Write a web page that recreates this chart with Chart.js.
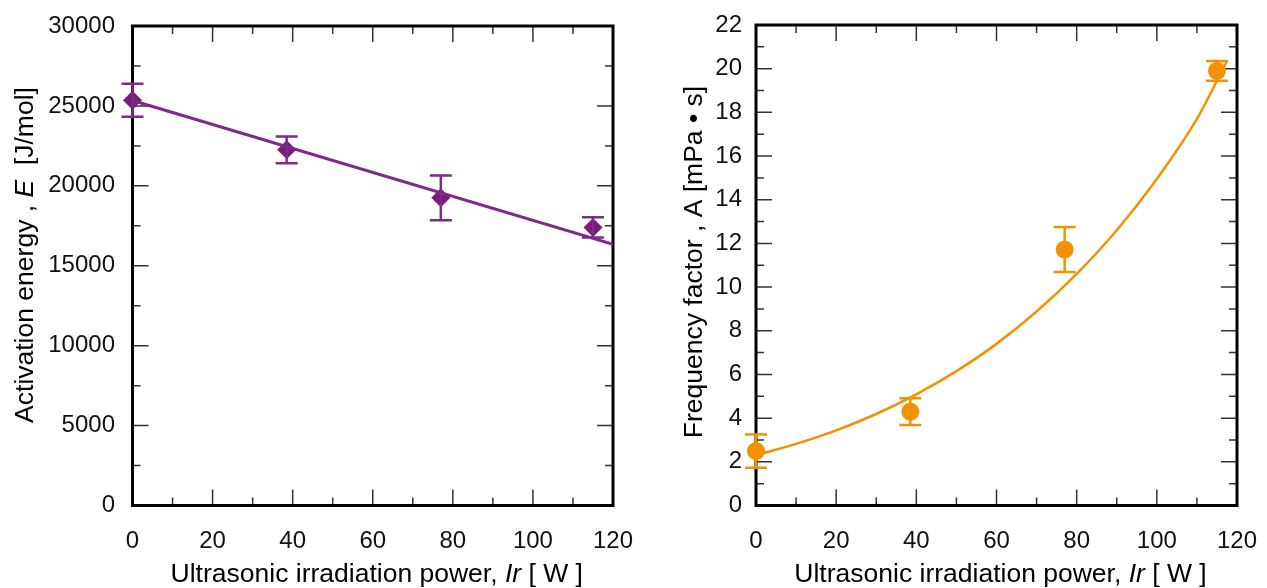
<!DOCTYPE html>
<html>
<head>
<meta charset="utf-8">
<title>Activation energy and frequency factor</title>
<script src="https://cdn.jsdelivr.net/npm/chart.js@4.4.0/dist/chart.umd.min.js"></script>
<style>
  html, body { margin: 0; padding: 0; background: #fff; }
  #wrap { position: relative; width: 1267px; height: 588px; }
  #energyChart { position: absolute; left: 0; top: 0; }
  #factorChart { position: absolute; left: 633px; top: 0; }
</style>
</head>
<body>
<div id="wrap">
  <canvas id="energyChart" width="633" height="588"></canvas>
  <canvas id="factorChart" width="634" height="588"></canvas>
</div>
<script>
// measured points (x = ultrasonic power, W)
const powerW = [0, 38.5, 77, 115];

// left panel: activation energy E [J/mol]
const energyE = [25350, 22250, 19250, 17400];
const energyErr = [1030, 840, 1400, 630];
const energyFitX = [0, 120];
const energyFitY = [25340, 16340];

// right panel: frequency factor A [mPa s]
const factorA = [2.49, 4.3, 11.72, 19.9];
const factorErr = [0.76, 0.61, 1.03, 0.45];
const factorFitX = [0, 10, 20, 30, 40, 50, 60, 70, 80, 90, 100, 110, 117.5];
const factorFitY = [2.3, 2.82, 3.44, 4.19, 5.09, 6.15, 7.4, 8.88, 10.6, 12.6, 14.95, 17.7, 20.35];

// tick labels
const powerTicks = [0, 20, 40, 60, 80, 100, 120];
const energyTicks = [0, 5000, 10000, 15000, 20000, 25000, 30000];
const factorTicks = [0, 2, 4, 6, 8, 10, 12, 14, 16, 18, 20, 22];

const FONT = '"Liberation Sans", Arial, sans-serif';
const PURPLE = '#7e2a88';
const ORANGE = '#f39200';

const toPoints = (xs, ys) => xs.map((x, i) => ({ x: x, y: ys[i] }));

// frame + inward ticks on all four sides, drawn under the data
const frameTicks = {
  id: 'frameTicks',
  beforeDatasetsDraw(chart) {
    const { ctx, chartArea: a, scales: { x, y } } = chart;
    const xs = x.ticks.map(t => t.value);
    const ys = y.ticks.map(t => t.value);
    const mids = v => v.slice(1).map((t, i) => (t + v[i]) / 2);

    ctx.save();
    ctx.strokeStyle = '#333';
    ctx.lineWidth = 1.5;
    ctx.beginPath();
    const xTick = (val, len) => {
      const px = x.getPixelForValue(val);
      ctx.moveTo(px, a.bottom); ctx.lineTo(px, a.bottom - len);
      ctx.moveTo(px, a.top); ctx.lineTo(px, a.top + len);
    };
    const yTick = (val, len) => {
      const py = y.getPixelForValue(val);
      ctx.moveTo(a.left, py); ctx.lineTo(a.left + len, py);
      ctx.moveTo(a.right, py); ctx.lineTo(a.right - len, py);
    };
    xs.forEach(v => xTick(v, 16));
    mids(xs).forEach(v => xTick(v, 8));
    ys.forEach(v => yTick(v, 16));
    mids(ys).forEach(v => yTick(v, 8));
    ctx.stroke();

    ctx.strokeStyle = '#000';
    ctx.lineWidth = 3;
    ctx.strokeRect(a.left, a.top, a.right - a.left, a.bottom - a.top);
    ctx.restore();
  }
};

const errorBars = {
  id: 'errorBars',
  afterDatasetsDraw(chart, args, opts) {
    const { ctx, scales: { x, y } } = chart;
    ctx.save();
    ctx.strokeStyle = opts.color;
    ctx.lineWidth = 2.5;
    opts.xs.forEach((xv, i) => {
      const px = x.getPixelForValue(xv);
      const top = y.getPixelForValue(opts.ys[i] + opts.errs[i]);
      const bot = y.getPixelForValue(opts.ys[i] - opts.errs[i]);
      ctx.beginPath();
      ctx.moveTo(px, top); ctx.lineTo(px, bot);
      ctx.moveTo(px - 11, top); ctx.lineTo(px + 11, top);
      ctx.moveTo(px - 11, bot); ctx.lineTo(px + 11, bot);
      ctx.stroke();
    });
    ctx.restore();
  }
};

// axis titles with italic symbols
const axisTitles = {
  id: 'axisTitles',
  afterDraw(chart, args, opts) {
    const { ctx, chartArea: a } = chart;
    const fontOf = it => (it ? 'italic ' : '') + '26.5px ' + FONT;
    const drawSegs = (segs, cx, cy) => {
      let total = 0;
      segs.forEach(s => { ctx.font = fontOf(s[1]); total += ctx.measureText(s[0]).width; });
      let pos = cx - total / 2;
      segs.forEach(s => {
        ctx.font = fontOf(s[1]);
        ctx.fillText(s[0], pos, cy);
        pos += ctx.measureText(s[0]).width;
      });
    };
    ctx.save();
    ctx.fillStyle = '#000';
    ctx.textBaseline = 'alphabetic';
    ctx.textAlign = 'left';
    drawSegs(opts.xTitle, (a.left + a.right) / 2 + 4, 581.5);
    ctx.translate(opts.yBaseX, opts.yCenter);
    ctx.rotate(-Math.PI / 2);
    drawSegs(opts.yTitle, 0, 0);
    ctx.restore();
  }
};

const xTitleSegs = [['Ultrasonic irradiation power, ', false], ['Ir', true], [' [ W ]', false]];

function makeOptions(yMin, yMax, yTickVals, axisWidth, pad, titles, bars) {
  return {
    responsive: false,
    animation: false,
    layout: { padding: pad },
    plugins: {
      legend: { display: false },
      tooltip: { enabled: false },
      errorBars: bars,
      axisTitles: titles
    },
    scales: {
      x: {
        type: 'linear',
        min: 0, max: 120,
        afterBuildTicks: s => { s.ticks = powerTicks.map(v => ({ value: v })); },
        afterFit: s => { s.height = 82.5; s.paddingLeft = 0; s.paddingRight = 0; },
        grid: { display: false, drawTicks: false },
        border: { display: false },
        ticks: {
          padding: 21, maxRotation: 0, color: '#111',
          font: { family: FONT, size: 24 },
          callback: v => String(v)
        }
      },
      y: {
        type: 'linear',
        min: yMin, max: yMax,
        afterBuildTicks: s => { s.ticks = yTickVals.map(v => ({ value: v })); },
        afterFit: s => { s.width = axisWidth; s.paddingTop = 0; s.paddingBottom = 0; },
        grid: { display: false, drawTicks: false },
        border: { display: false },
        ticks: {
          padding: titles.labelGap, color: '#111',
          font: { family: FONT, size: 24 },
          callback: v => String(v)
        }
      }
    }
  };
}

new Chart(document.getElementById('energyChart'), {
  type: 'scatter',
  data: {
    datasets: [
      {
        data: toPoints(energyFitX, energyFitY),
        showLine: true,
        borderColor: PURPLE,
        borderWidth: 3,
        pointRadius: 0
      },
      {
        data: toPoints(powerW, energyE),
        pointStyle: 'rectRot',
        pointRadius: 9.5,
        pointBackgroundColor: '#7a1c7b',
        pointBorderWidth: 0,
        clip: false
      }
    ]
  },
  options: makeOptions(0, 30000, energyTicks, 132.5,
    { top: 26, right: 20, left: 0, bottom: 0 },
    {
      xTitle: xTitleSegs,
      yTitle: [['Activation energy , ', false], ['E', true], ['  [J/mol]', false]],
      yBaseX: 33, yCenter: 255, labelGap: 17.5
    },
    { xs: powerW, ys: energyE, errs: energyErr, color: PURPLE }),
  plugins: [frameTicks, errorBars, axisTitles]
});

new Chart(document.getElementById('factorChart'), {
  type: 'scatter',
  data: {
    datasets: [
      {
        data: toPoints(factorFitX, factorFitY),
        showLine: true,
        cubicInterpolationMode: 'monotone',
        borderColor: ORANGE,
        borderWidth: 2.5,
        pointRadius: 0
      },
      {
        data: toPoints(powerW, factorA),
        pointStyle: 'circle',
        pointRadius: 9,
        pointBackgroundColor: ORANGE,
        pointBorderWidth: 0,
        clip: false
      }
    ]
  },
  options: makeOptions(0, 22, factorTicks, 123,
    { top: 25, right: 30, left: 0, bottom: 0 },
    {
      xTitle: xTitleSegs,
      yTitle: [['Frequency factor , ', false], ['A', false], [' [mPa \u2022 s]', false]],
      yBaseX: 69, yCenter: 262, labelGap: 14
    },
    { xs: powerW, ys: factorA, errs: factorErr, color: ORANGE }),
  plugins: [frameTicks, errorBars, axisTitles]
});
</script>
</body>
</html>
